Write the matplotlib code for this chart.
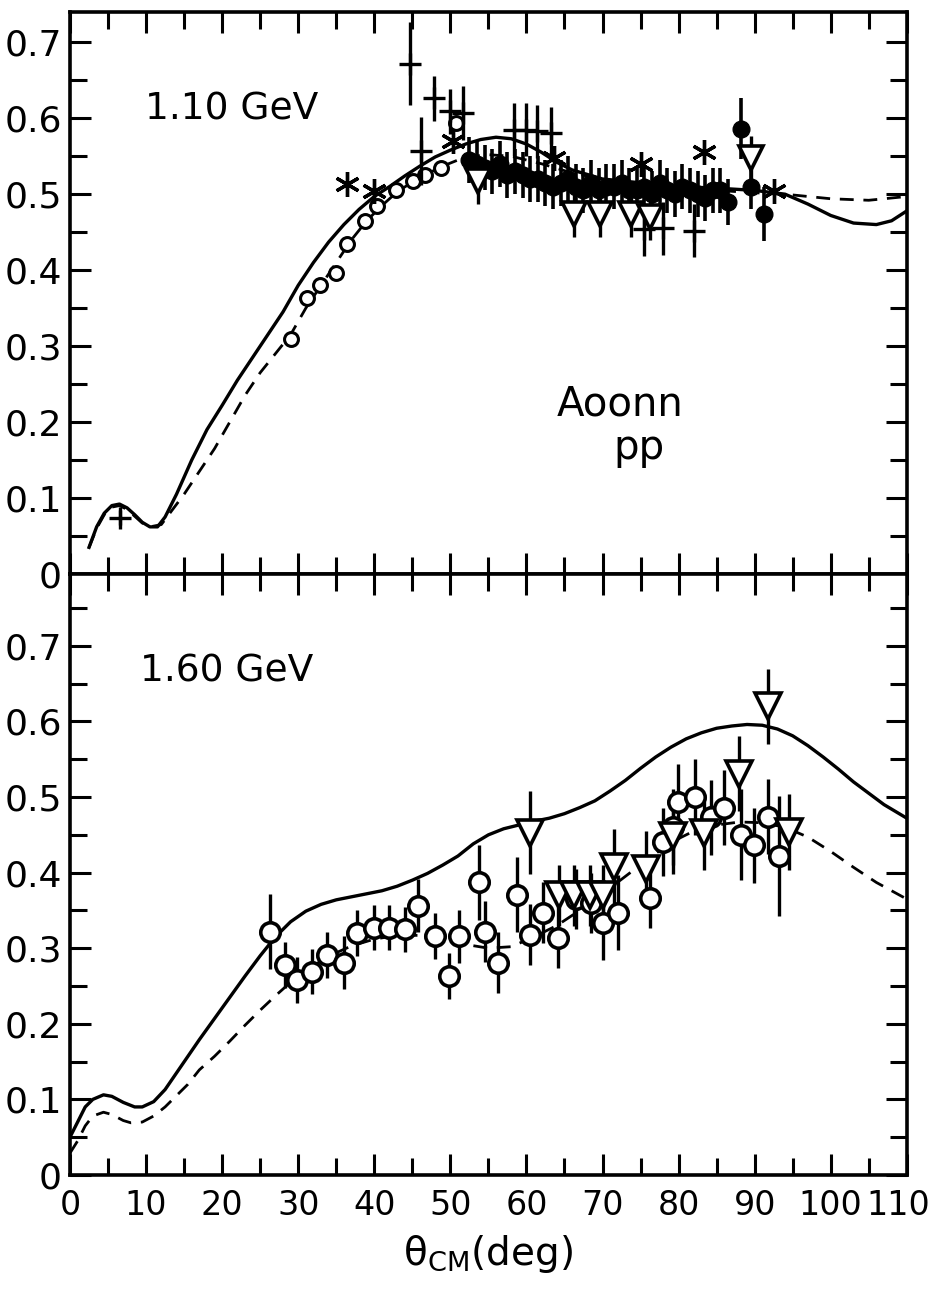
import numpy as np
import matplotlib.pyplot as plt
from matplotlib.ticker import MultipleLocator
from matplotlib.transforms import ScaledTranslation

# ---------- 1.10 GeV : model curves ----------
th_solid_110 = [2.5, 3.5, 4.5, 5.5, 6.5, 7.5, 8.5, 9.5, 10.5, 11.5, 12.5, 14, 16, 18, 20, 22,
                24, 26, 28, 30, 32, 34, 36, 38, 40, 42, 44, 46, 48, 50, 52, 54, 56, 58, 60,
                62, 64, 66, 70, 75, 80, 85, 90, 94, 97, 100, 103, 106, 108, 110]
a_solid_110 = [0.035, 0.062, 0.08, 0.09, 0.092, 0.087, 0.078, 0.068, 0.062, 0.062, 0.075,
               0.105, 0.15, 0.19, 0.222, 0.255, 0.285, 0.315, 0.345, 0.38, 0.41, 0.437,
               0.46, 0.48, 0.497, 0.51, 0.524, 0.537, 0.549, 0.558, 0.566, 0.572, 0.575,
               0.573, 0.566, 0.555, 0.542, 0.532, 0.52, 0.515, 0.51, 0.508, 0.505, 0.5,
               0.487, 0.472, 0.462, 0.46, 0.465, 0.478]

th_dash_110 = [2.5, 3.5, 4.5, 5.5, 6.5, 7.5, 8.5, 9.5, 10.5, 12, 13.5, 15, 17, 19, 21, 23,
               25, 27, 29, 31, 33, 35, 37, 39, 41, 43, 45, 47, 49, 51, 53, 55, 58, 62, 66,
               70, 75, 80, 85, 90, 95, 100, 105, 110]
a_dash_110 = [0.035, 0.06, 0.078, 0.088, 0.09, 0.085, 0.076, 0.067, 0.062, 0.065, 0.085,
              0.105, 0.135, 0.165, 0.2, 0.235, 0.265, 0.29, 0.315, 0.35, 0.38, 0.41, 0.44,
              0.465, 0.485, 0.503, 0.516, 0.527, 0.537, 0.545, 0.55, 0.552, 0.55, 0.54,
              0.528, 0.52, 0.513, 0.508, 0.505, 0.502, 0.499, 0.494, 0.492, 0.497]

# ---------- 1.10 GeV : data ----------
circ_x_110 = [29.1, 31.1, 32.9, 34.9, 36.4, 38.8, 40.4, 42.8, 45.1, 46.7, 48.8, 50.8]
circ_y_110 = [0.309, 0.363, 0.381, 0.396, 0.434, 0.465, 0.484, 0.506, 0.517, 0.525, 0.535, 0.594]

plus_x_110 = [6.6, 44.7, 46.2, 47.8, 50.0, 51.7, 58.3, 59.9, 61.4, 63.2, 75.4, 78.0, 82.0]
plus_y_110 = [0.074, 0.672, 0.557, 0.626, 0.609, 0.607, 0.585, 0.585, 0.583, 0.58, 0.454, 0.455, 0.452]
plus_e_110 = [0.01, 0.055, 0.045, 0.03, 0.03, 0.035, 0.035, 0.035, 0.035, 0.035, 0.035, 0.035, 0.035]

star_x_110 = [36.4, 39.9, 50.4, 63.6, 75.0, 83.3, 92.5]
star_y_110 = [0.513, 0.504, 0.57, 0.547, 0.54, 0.556, 0.504]

tri_x_110 = [53.6, 66.2, 69.7, 73.7, 76.3, 89.5]
tri_y_110 = [0.517, 0.474, 0.474, 0.474, 0.47, 0.547]
tri_e_110 = [0.03, 0.03, 0.03, 0.03, 0.03, 0.03]

dot_x_110 = [52.5, 53.5, 54.5, 55.5, 56.5, 57.5, 58.5, 59.5, 60.5, 61.5, 62.5, 63.5, 64.5,
             65.5, 66.5, 67.5, 68.5, 69.5, 70.5, 71.5, 72.5, 73.5, 74.5, 75.5, 76.5, 77.5,
             78.5, 79.5, 80.5, 81.5, 82.5, 83.5, 84.5, 85.5, 86.5, 88.2, 89.5, 91.2]
dot_y_110 = [0.545, 0.54, 0.535, 0.53, 0.54, 0.525, 0.53, 0.525, 0.52, 0.52, 0.515, 0.51,
             0.515, 0.52, 0.51, 0.505, 0.515, 0.505, 0.51, 0.51, 0.515, 0.505, 0.505, 0.51,
             0.5, 0.515, 0.505, 0.5, 0.51, 0.505, 0.5, 0.495, 0.505, 0.505, 0.49, 0.586,
             0.51, 0.474]
dot_e_110 = [0.03] * 35 + [0.04, 0.03, 0.035]

# ---------- 1.60 GeV : model curves ----------
th_solid_160 = [0, 1, 2, 3, 4.4, 5.5, 7, 8.5, 9.5, 11, 12.5, 14, 15.5, 17, 19, 21, 23, 25,
                27, 29, 31, 33, 35, 37, 39, 41, 43, 45, 47, 49, 51, 53, 55, 57, 59, 61, 63,
                65, 67, 69, 71, 73, 75, 77, 79, 81, 83, 85, 87, 89, 91, 93, 95, 97, 99, 101,
                103, 105, 107, 109, 110]
a_solid_160 = [0.05, 0.07, 0.09, 0.1, 0.106, 0.104, 0.096, 0.09, 0.09, 0.097, 0.113, 0.135,
               0.157, 0.179, 0.207, 0.235, 0.263, 0.29, 0.315, 0.335, 0.349, 0.358, 0.364,
               0.368, 0.372, 0.376, 0.382, 0.39, 0.399, 0.41, 0.422, 0.438, 0.45, 0.458,
               0.463, 0.468, 0.472, 0.478, 0.486, 0.495, 0.508, 0.522, 0.538, 0.553, 0.566,
               0.577, 0.585, 0.591, 0.594, 0.596, 0.595, 0.59, 0.581, 0.568, 0.553, 0.537,
               0.52, 0.505, 0.49, 0.478, 0.472]

th_dash_160 = [0, 1, 2, 3, 4.4, 5.5, 7, 8, 9.5, 11, 12.5, 14, 15.5, 17, 19, 21, 23, 25, 27,
               29, 31, 33, 35, 37, 40, 43, 46, 49, 52, 55, 58, 61, 64, 67, 70, 73, 76, 79,
               82, 85, 88, 91, 94, 97, 100, 103, 106, 108, 110]
a_dash_160 = [0.029, 0.045, 0.065, 0.078, 0.083, 0.08, 0.072, 0.069, 0.07, 0.078, 0.09,
              0.105, 0.12, 0.139, 0.157, 0.177, 0.198, 0.218, 0.237, 0.255, 0.27, 0.283,
              0.294, 0.303, 0.312, 0.317, 0.317, 0.312, 0.305, 0.3, 0.302, 0.315, 0.33,
              0.35, 0.372, 0.395, 0.418, 0.44, 0.455, 0.463, 0.467, 0.466, 0.46, 0.447,
              0.428, 0.407, 0.387, 0.376, 0.365]

# ---------- 1.60 GeV : data ----------
circ_x_160 = [26.3, 28.3, 29.8, 31.8, 33.8, 36.0, 37.7, 39.9, 41.9, 44.1, 45.8, 48.0, 49.8,
              51.1, 53.7, 54.6, 56.3, 58.8, 60.5, 62.2, 64.2, 66.5, 68.5, 70.1, 72.1, 76.3,
              78.0, 79.3, 79.9, 82.2, 84.2, 86.0, 88.2, 89.9, 91.8, 93.2]
circ_y_160 = [0.322, 0.278, 0.258, 0.269, 0.291, 0.281, 0.32, 0.327, 0.327, 0.325, 0.356,
              0.316, 0.263, 0.316, 0.387, 0.322, 0.281, 0.371, 0.318, 0.347, 0.314, 0.365,
              0.36, 0.334, 0.347, 0.367, 0.441, 0.46, 0.494, 0.5, 0.473, 0.486, 0.45,
              0.436, 0.474, 0.422]
circ_e_160 = [0.05, 0.03, 0.03, 0.03, 0.03, 0.035, 0.03, 0.03, 0.03, 0.03, 0.035, 0.03,
              0.03, 0.035, 0.05, 0.04, 0.04, 0.05, 0.04, 0.04, 0.04, 0.04, 0.04, 0.05,
              0.05, 0.04, 0.045, 0.05, 0.05, 0.05, 0.05, 0.05, 0.06, 0.05, 0.05, 0.08]

tri_x_160 = [60.5, 64.3, 66.3, 68.3, 70.0, 71.5, 75.7, 79.3, 83.3, 87.9, 91.8, 94.5]
tri_y_160 = [0.453, 0.37, 0.37, 0.37, 0.37, 0.408, 0.405, 0.448, 0.453, 0.531, 0.62, 0.454]
tri_e_160 = [0.055, 0.04, 0.04, 0.04, 0.04, 0.05, 0.05, 0.05, 0.05, 0.05, 0.05, 0.05]

angle_ticks = list(range(0, 111, 10))
asym_ticks = [0, 0.1, 0.2, 0.3, 0.4, 0.5, 0.6, 0.7]
asym_labels = ['0', '0.1', '0.2', '0.3', '0.4', '0.5', '0.6', '0.7']

LW = 2.4
dash = (0, (5, 3.5))

fig = plt.figure(figsize=(9.36, 12.95), dpi=100)
ax1 = fig.add_axes([0.0748, 0.5568, 0.894, 0.434])
ax2 = fig.add_axes([0.0748, 0.0927, 0.894, 0.464])

# top panel
ax1.plot(th_solid_110, a_solid_110, color='k', lw=LW)
ax1.plot(th_dash_110, a_dash_110, color='k', lw=2.0, linestyle=dash)
ax1.plot(circ_x_110, circ_y_110, 'o', mfc='white', mec='k', ms=10, mew=2.2)
ax1.errorbar(plus_x_110, plus_y_110, yerr=plus_e_110, fmt='+', color='k', ms=16, mew=2.4,
             elinewidth=2.4, capsize=0)
ax1.errorbar(dot_x_110, dot_y_110, yerr=dot_e_110, fmt='o', color='k', ms=12,
             elinewidth=2.6, capsize=0)
ax1.plot(star_x_110, star_y_110, linestyle='none', marker=(6, 2, 0), color='k', ms=18, mew=2.4)
ax1.errorbar(tri_x_110, tri_y_110, yerr=tri_e_110, fmt='v', mfc='white', mec='k', ecolor='k',
             ms=17, mew=2.6, elinewidth=2.4, capsize=0)

ax1.text(9.9, 0.599, '1.10 GeV', fontsize=27)
ax1.text(64.0, 0.208, 'Aoonn', fontsize=29)
ax1.text(71.4, 0.151, 'pp', fontsize=29)

# bottom panel
ax2.plot(th_solid_160, a_solid_160, color='k', lw=LW)
ax2.plot(th_dash_160, a_dash_160, color='k', lw=2.0, linestyle=dash)
ax2.errorbar(circ_x_160, circ_y_160, yerr=circ_e_160, fmt='o', mfc='white', mec='k',
             ecolor='k', ms=14, mew=2.6, elinewidth=2.4, capsize=0)
ax2.errorbar(tri_x_160, tri_y_160, yerr=tri_e_160, fmt='v', mfc='white', mec='k', ecolor='k',
             ms=19, mew=2.6, elinewidth=2.4, capsize=0)

ax2.text(9.2, 0.653, '1.60 GeV', fontsize=27)

for ax, ytop in ((ax1, 0.74), (ax2, 0.795)):
    ax.set_xlim(0, 110)
    ax.set_ylim(0, ytop)
    ax.set_yticks(asym_ticks)
    ax.set_yticklabels(asym_labels)
    ax.yaxis.set_minor_locator(MultipleLocator(0.05))
    ax.xaxis.set_major_locator(MultipleLocator(10))
    ax.xaxis.set_minor_locator(MultipleLocator(5))
    ax.tick_params(which='both', direction='in', top=True, right=True, width=2.2, pad=6)
    ax.tick_params(axis='y', labelsize=26)
    ax.tick_params(axis='x', labelsize=24, pad=10)
    ax.tick_params(which='major', length=15)
    ax.tick_params(which='minor', length=12)
    for s in ax.spines.values():
        s.set_linewidth(2.6)

ax1.tick_params(labelbottom=False)
ax2.set_xticks(angle_ticks)
ax2.set_xticklabels([str(v) for v in angle_ticks])
# pull the last label inside the figure edge
last = ax2.get_xticklabels()[-1]
last.set_transform(last.get_transform() + ScaledTranslation(-6 / 72, 0, fig.dpi_scale_trans))
ax2.set_xlabel('θ$_{\\mathrm{CM}}$(deg)', fontsize=28, labelpad=8)

fig.savefig('out.png', dpi=100)
